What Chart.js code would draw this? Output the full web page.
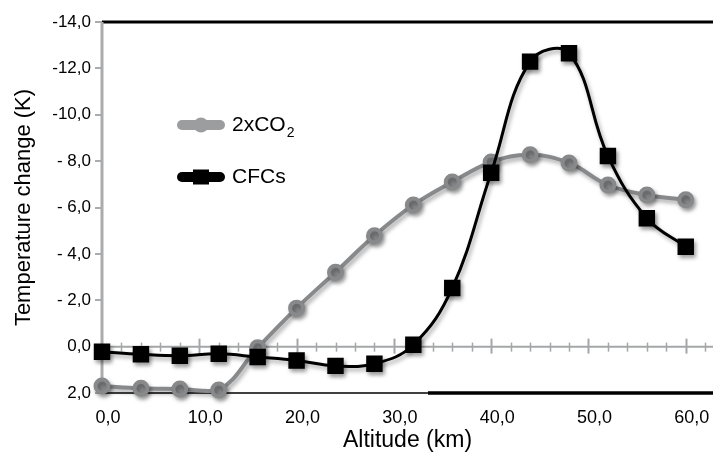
<!DOCTYPE html>
<html>
<head>
<meta charset="utf-8">
<script src="https://cdn.jsdelivr.net/npm/chart.js@4.4.1/dist/chart.umd.min.js"></script>
<style>
    html, body { margin: 0; padding: 0; background: #fff; }
    #wrap { width: 713px; height: 452px; position: relative; }
</style>
</head>
<body>
<div id="wrap"><canvas id="chartTemp"></canvas></div>
<script>
// data
const altitude = [0, 4, 8, 12, 16, 20, 24, 28, 32, 36, 40, 44, 48, 52, 56, 60];
const co2Change = [1.7, 1.8, 1.83, 1.87, 0.05, -1.66, -3.21, -4.78, -6.11, -7.1, -7.96, -8.27, -7.92, -6.97, -6.54, -6.33];
const cfcChange = [0.22, 0.33, 0.39, 0.31, 0.45, 0.6, 0.83, 0.74, -0.08, -2.53, -7.5, -12.29, -12.65, -8.22, -5.54, -4.31];
const seriesNames = ['2xCO', 'CFCs'];
const xTickValues = [0, 10, 20, 30, 40, 50, 60];

const FONT = "'Liberation Sans', Arial, sans-serif";
const GREY = '#87898b';

function toPoints(ys) {
    return altitude.map((x, i) => ({ x: x, y: ys[i] }));
}

function fmtY(v) {
    if (v >= 0) return v.toFixed(1).replace('.', ',');
    if (v <= -10) return '-' + Math.abs(v).toFixed(1).replace('.', ',');
    return '- ' + Math.abs(v).toFixed(1).replace('.', ',');
}

// soft drop shadow under lines and markers
const shadowPlugin = {
    id: 'shadow',
    beforeDatasetDraw(chart) {
        const ctx = chart.ctx;
        ctx.save();
        ctx.shadowColor = 'rgba(0,0,0,0.35)';
        ctx.shadowBlur = 4;
        ctx.shadowOffsetX = 2;
        ctx.shadowOffsetY = 3;
    },
    afterDatasetDraw(chart) {
        chart.ctx.restore();
    }
};

// frame lines + zero line with ticks
const framePlugin = {
    id: 'frame',
    beforeDatasetsDraw(chart) {
        const { ctx, chartArea: a, scales: { x, y } } = chart;
        ctx.save();
        // top black line
        ctx.strokeStyle = '#000';
        ctx.lineWidth = 3;
        ctx.beginPath();
        ctx.moveTo(a.left, a.top);
        ctx.lineTo(a.right, a.top);
        ctx.stroke();
        // bottom line: thin, then heavier
        const split = x.getPixelForValue(33.5);
        ctx.lineWidth = 1.5;
        ctx.beginPath();
        ctx.moveTo(a.left, a.bottom);
        ctx.lineTo(split, a.bottom);
        ctx.stroke();
        ctx.lineWidth = 3.5;
        ctx.beginPath();
        ctx.moveTo(split, a.bottom);
        ctx.lineTo(a.right, a.bottom);
        ctx.stroke();
        // grey left axis
        ctx.strokeStyle = '#a9abad';
        ctx.lineWidth = 3;
        ctx.beginPath();
        ctx.moveTo(a.left, a.top);
        ctx.lineTo(a.left, a.bottom);
        ctx.stroke();
        // zero line
        const y0 = y.getPixelForValue(0);
        ctx.strokeStyle = '#a4a6a8';
        ctx.lineWidth = 2;
        ctx.beginPath();
        ctx.moveTo(a.left, y0);
        ctx.lineTo(a.right, y0);
        ctx.stroke();
        for (let v = 2; v <= 62; v += 2) {
            const px = Math.round(x.getPixelForValue(v)) + 0.5;
            ctx.beginPath();
            if (v % 10 === 0) {
                ctx.lineWidth = 2;
                ctx.moveTo(px, y0 - 8);
                ctx.lineTo(px, y0 + 7);
            } else {
                ctx.lineWidth = 1.5;
                ctx.moveTo(px, y0 - 4);
                ctx.lineTo(px, y0 + 5);
            }
            ctx.stroke();
        }
        ctx.restore();
    }
};

// legend drawn inside the plot, like the original
const legendPlugin = {
    id: 'innerLegend',
    afterDraw(chart) {
        const { ctx, chartArea: a } = chart;
        const x0 = a.left + 80, x1 = a.left + 118;
        const rows = [a.top + 103, a.top + 155];
        ctx.save();
        rows.forEach((ry, i) => {
            const color = i === 0 ? '#9b9d9f' : '#000';
            ctx.strokeStyle = color;
            ctx.fillStyle = color;
            ctx.lineWidth = 10;
            ctx.lineCap = 'round';
            ctx.beginPath();
            ctx.moveTo(x0, ry);
            ctx.lineTo(x1, ry);
            ctx.stroke();
            const cx = (x0 + x1) / 2;
            if (i === 0) {
                ctx.beginPath();
                ctx.arc(cx, ry, 7.5, 0, Math.PI * 2);
                ctx.fill();
            } else {
                ctx.fillRect(cx - 8, ry - 7.5, 16, 15);
            }
            ctx.fillStyle = '#000';
            ctx.font = '21px ' + FONT;
            ctx.textBaseline = 'middle';
            ctx.textAlign = 'left';
            ctx.fillText(seriesNames[i], x1 + 12, ry);
            if (i === 0) {
                const w = ctx.measureText(seriesNames[i]).width;
                ctx.font = '14px ' + FONT;
                ctx.fillText('2', x1 + 12 + w + 1, ry + 8);
            }
        });
        ctx.restore();
    }
};

new Chart(document.getElementById('chartTemp'), {
    type: 'line',
    data: {
        datasets: [
            {
                label: '2xCO2',
                data: toPoints(co2Change),
                borderColor: GREY,
                backgroundColor: GREY,
                borderWidth: 4,
                pointStyle: 'circle',
                pointRadius: 6.5,
                tension: 0.4,
                clip: false,
                order: 1
            },
            {
                label: 'CFCs',
                data: toPoints(cfcChange),
                borderColor: '#000',
                backgroundColor: '#000',
                borderWidth: 3,
                pointStyle: 'rect',
                pointRadius: 9.5,
                tension: 0.4,
                clip: false,
                order: 0
            }
        ]
    },
    options: {
        responsive: true,
        maintainAspectRatio: false,
        animation: false,
        layout: { autoPadding: false, padding: { top: 22, right: 0, left: 0, bottom: 0 } },
        plugins: { legend: { display: false }, tooltip: { enabled: false } },
        scales: {
            x: {
                type: 'linear',
                min: 0,
                max: 62.8,
                afterBuildTicks: (s) => { s.ticks = xTickValues.map(v => ({ value: v })); },
                afterFit: (s) => { s.height = 59; },
                grid: { display: false },
                border: { display: false },
                ticks: {
                    color: '#000',
                    font: { family: FONT, size: 18 },
                    padding: 6,
                    labelOffset: 6,
                    callback: (v) => v.toFixed(1).replace('.', ',')
                },
                title: {
                    display: true,
                    text: 'Altitude (km)',
                    color: '#000',
                    font: { family: FONT, size: 23, lineHeight: 1 },
                    padding: { top: 0, bottom: 0 }
                }
            },
            y: {
                type: 'linear',
                reverse: true,
                min: -14,
                max: 2,
                afterFit: (s) => { s.width = 102; },
                grid: { drawOnChartArea: false, color: '#a9abad', lineWidth: 2, tickLength: 7 },
                border: { display: false },
                ticks: {
                    stepSize: 2,
                    color: '#000',
                    font: { family: FONT, size: 17 },
                    padding: 4,
                    callback: fmtY
                },
                title: {
                    display: true,
                    text: 'Temperature change (K)',
                    color: '#000',
                    font: { family: FONT, size: 22 },
                    padding: { top: 11, bottom: 0 }
                }
            }
        }
    },
    plugins: [framePlugin, shadowPlugin, legendPlugin]
});
</script>
</body>
</html>
